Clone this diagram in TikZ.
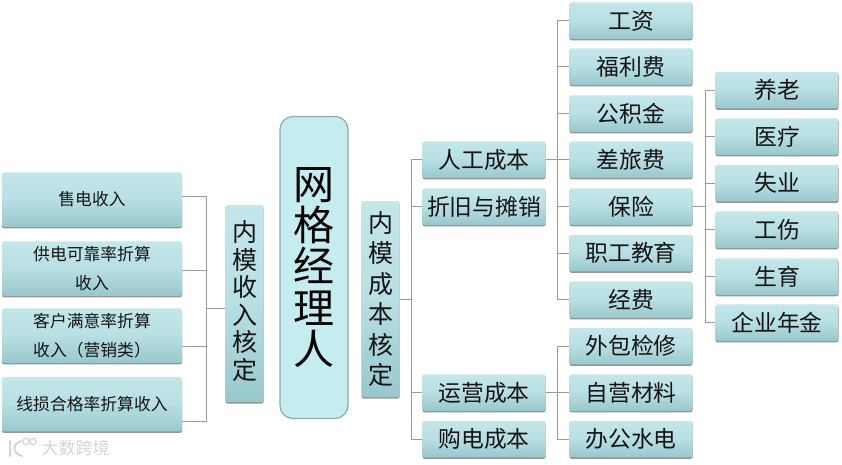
\documentclass[tikz,border=0pt]{standalone}
\usepackage{fontspec}
\setmainfont{Noto Sans CJK SC}
\usetikzlibrary{shadows}
\definecolor{boxtop}{HTML}{C3E7EA}
\definecolor{boxmid}{HTML}{B8DFE3}
\definecolor{boxbot}{HTML}{98C8CC}
\definecolor{hubfill}{HTML}{C5ECEE}
\definecolor{hubedge}{HTML}{8FA9AB}
\definecolor{linkcol}{HTML}{9A9A9A}
\definecolor{inkcol}{HTML}{141414}
\definecolor{markcol}{HTML}{D4D4D4}
\tikzset{
  tilebox/.style={inner sep=0pt,rounded corners=1.5pt,top color=boxtop,bottom color=boxbot,middle color=boxmid,
    text=inkcol,align=center,
    drop shadow={shadow xshift=0pt,shadow yshift=-1.6pt,fill=black!75,opacity=.55}},
  wide/.style={tilebox,minimum width=123pt,minimum height=36.5pt,font=\fontsize{22.8}{26}\selectfont},
  lefttile/.style={tilebox,minimum width=180pt,minimum height=54.5pt,font=\fontsize{16.8}{29.5}\selectfont},
  tall/.style={tilebox,minimum width=38pt},
  talltext/.style={inner sep=0pt,align=center,text=inkcol},
  link/.style={draw=linkcol,line width=.8pt},
}
\begin{document}
\begin{tikzpicture}[x=1pt,y=-1pt]
\useasboundingbox (0,0) rectangle (842,464);
% centre
\node[draw=hubedge,line width=1.2pt,fill=hubfill,rounded corners=13pt,minimum width=68pt,minimum height=302pt,inner sep=0pt,align=center,text=black,font=\fontsize{41}{41.2}\selectfont] (hub) at (314,267.5) {网\\格\\经\\理\\人};
% middle tall nodes
\node[tall,minimum height=197pt] (rev) at (244.5,303.5) {};
\node[talltext,font=\fontsize{25}{27.6}\selectfont] (revtext) at (244.5,301) {内\\模\\收\\入\\核\\定};
\node[tall,minimum height=196pt] (cost) at (380.5,299) {};
\node[talltext,font=\fontsize{25}{30.4}\selectfont] (costtext) at (380.5,299) {内\\模\\成\\本\\核\\定};
% left column
\node[lefttile] (a1) at (92,199.5) {售电收入};
\node[lefttile] (a2) at (92,268.5) {供电可靠率折算\\收入};
\node[lefttile] (a3) at (92,335.5) {客户满意率折算\\收入（营销类）};
\node[lefttile] (a4) at (92,404) {线损合格率折算收入};
% second level
\node[wide] (b1) at (484,159.5) {人工成本};
\node[wide] (b2) at (484,206.5) {折旧与摊销};
\node[wide] (b3) at (484,392.5) {运营成本};
\node[wide] (b4) at (484,439) {购电成本};
% third level
\node[wide] (c1) at (631,20.5) {工资};
\node[wide] (c2) at (631,66.5) {福利费};
\node[wide] (c3) at (631,113.5) {公积金};
\node[wide] (c4) at (631,159.5) {差旅费};
\node[wide] (c5) at (631,206.5) {保险};
\node[wide] (c6) at (631,253) {职工教育};
\node[wide] (c7) at (631,299.5) {经费};
\node[wide] (c8) at (631,346) {外包检修};
\node[wide] (c9) at (631,392.5) {自营材料};
\node[wide] (c10) at (631,439) {办公水电};
% fourth level
\node[wide] (d1) at (777,90) {养老};
\node[wide] (d2) at (777,136.5) {医疗};
\node[wide] (d3) at (777,183) {失业};
\node[wide] (d4) at (777,229.5) {工伤};
\node[wide] (d5) at (777,276.5) {生育};
\node[wide] (d6) at (777,322.5) {企业年金};
% connectors
\foreach \k/\s in {a1/3.5pt,a2/-1.5pt,a3/-11pt,a4/-17pt}
  \draw[link] ([yshift=-4.5pt]rev.west) -- ++(-19,0) |- ([yshift=\s]\k.east);
\foreach \k in {b1,b2,b3,b4}
  \draw[link] (cost.east) -- ++(12,0) |- (\k.west);
\foreach \k in {c1,c2,c3,c4,c5,c6,c7}
  \draw[link] (b1.east) -- ++(12,0) |- (\k.west);
\foreach \k in {c8,c9,c10}
  \draw[link] (b3.east) -- ++(12,0) |- (\k.west);
\foreach \k in {d1,d2,d3,d4,d5,d6}
  \draw[link] (c5.east) -- ++(12.5,0) |- (\k.west);
% watermark
\node[text=markcol,inner sep=0pt,font=\fontsize{17}{17}\selectfont] (mark) at (75.5,448) {大数跨境};
\draw[markcol,line width=2pt,line cap=round] (10,441) -- (10,456);
\draw[markcol,line width=2pt,line cap=round] (21,441) .. controls (12,444) and (12,453) .. (22,456);
\draw[markcol,line width=1.2pt] (26,441.5) circle (3.2);
\draw[markcol,line width=1.2pt] (33,441.5) circle (3.2);
\end{tikzpicture}
\end{document}
